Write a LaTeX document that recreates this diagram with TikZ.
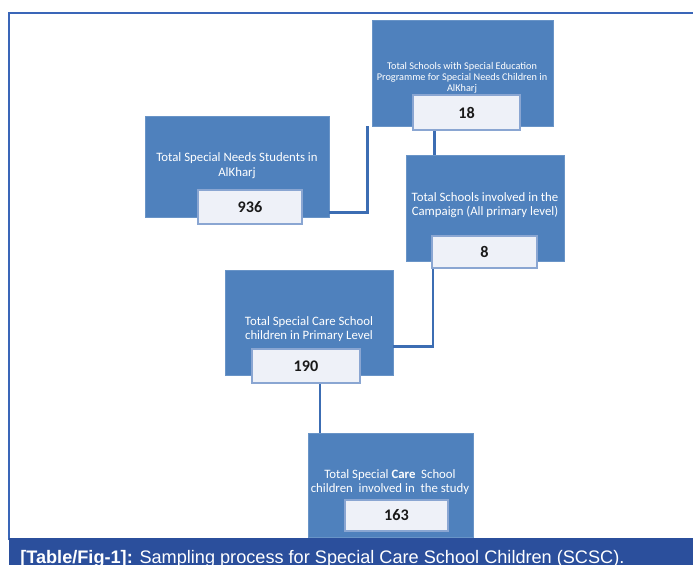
\documentclass[tikz,border=0pt]{standalone}
\usepackage{fontspec}
\setmainfont{Carlito}
\newfontfamily\capfont{Liberation Sans}
\usetikzlibrary{positioning}
\definecolor{boxblue}{HTML}{4F81BD}
\definecolor{linkblue}{HTML}{3C6DB3}
\definecolor{numfill}{HTML}{EEF1F8}
\definecolor{numline}{HTML}{8AA6D2}
\definecolor{capblue}{HTML}{2B4F9C}
\definecolor{frameblue}{HTML}{3A66B8}

\begin{document}
\begin{tikzpicture}[x=0.025cm,y=-0.025cm,
    outerbox/.style={rectangle,fill=boxblue,draw=boxblue!85!white,line width=0.4pt,inner sep=0pt},
    boxtext/.style={text=white,align=center,font=\fontsize{9.1}{10}\selectfont,inner sep=0pt},
    numbox/.style={rectangle,fill=numfill,draw=numline,line width=0.8pt,text=black!90,font=\fontsize{11.5}{13}\selectfont\bfseries,inner sep=0pt},
    link/.style={draw=linkblue,line width=2.1pt}]
    \useasboundingbox (0,0) rectangle (693,565);

    %frame and caption
    \draw[frameblue,line width=1.1pt] (9,540) |- (693,13);
    \node[rectangle,fill=capblue,inner sep=0pt,minimum width=17.1cm,minimum height=0.675cm] (cap) at (351,552) {};
    \node[anchor=base west,text=white,inner sep=0pt,font=\capfont\fontsize{12.9}{14}\selectfont] (captext) at (20,563)
        {\textbf{[Table/Fig-1]:} Sampling process for Special Care School Children (SCSC).};

    %boxes
    \node[outerbox,minimum width=4.525cm,minimum height=2.65cm] (b1) at (462.5,73) {};
    \node[outerbox,minimum width=4.6cm,minimum height=2.525cm] (b2) at (237,166.5) {};
    \node[outerbox,minimum width=3.95cm,minimum height=2.65cm] (b3) at (485,208) {};
    \node[outerbox,minimum width=4.2cm,minimum height=2.625cm] (b4) at (309,322.5) {};
    \node[outerbox,minimum width=4.125cm,minimum height=2.6cm] (b5) at (390.5,485) {};

    %box texts
    \node[boxtext,font=\fontsize{7.3}{7.9}\selectfont] (t1) at (462,78)
        {Total Schools with Special Education\\Programme for Special Needs Children in\\AlKharj};
    \node[boxtext,font=\fontsize{9.1}{10.6}\selectfont] (t2) at (237,165.5) {Total Special Needs Students in\\AlKharj};
    \node[boxtext] (t3) at (485,205) {Total Schools involved in the\\Campaign (All primary level)};
    \node[boxtext] (t4) at (309,329) {Total Special Care School\\children in Primary Level};
    \node[boxtext] (t5) at (390,482) {Total Special \textbf{Care}\ \ School\\children\ \ involved in\ \ the study};

    %edges
    \draw[link] ([xshift=-0.69cm]b1.south) -- ([xshift=-0.69cm]b1.south |- b3.north);
    \draw[link] ([yshift=-1.14cm]b2.east) -| ([xshift=-0.1cm]b1.south west);
    \draw[link] ([xshift=-1.3cm]b3.south) |- ([yshift=-0.61cm]b4.east);
    \draw[link] ([xshift=0.275cm]b4.south) -- ([xshift=0.275cm]b4.south |- b5.north);

    %numbers
    \node[numbox,minimum width=2.675cm,minimum height=0.875cm] (n1) at (466.5,112.5) {18};
    \node[numbox,minimum width=2.6cm,minimum height=0.85cm] (n2) at (250,207) {936};
    \node[numbox,minimum width=2.625cm,minimum height=0.8cm] (n3) at (484.5,252) {8};
    \node[numbox,minimum width=2.7cm,minimum height=0.85cm] (n4) at (306,366) {190};
    \node[numbox,minimum width=2.575cm,minimum height=0.775cm] (n5) at (396.5,515.5) {163};
\end{tikzpicture}
\end{document}
